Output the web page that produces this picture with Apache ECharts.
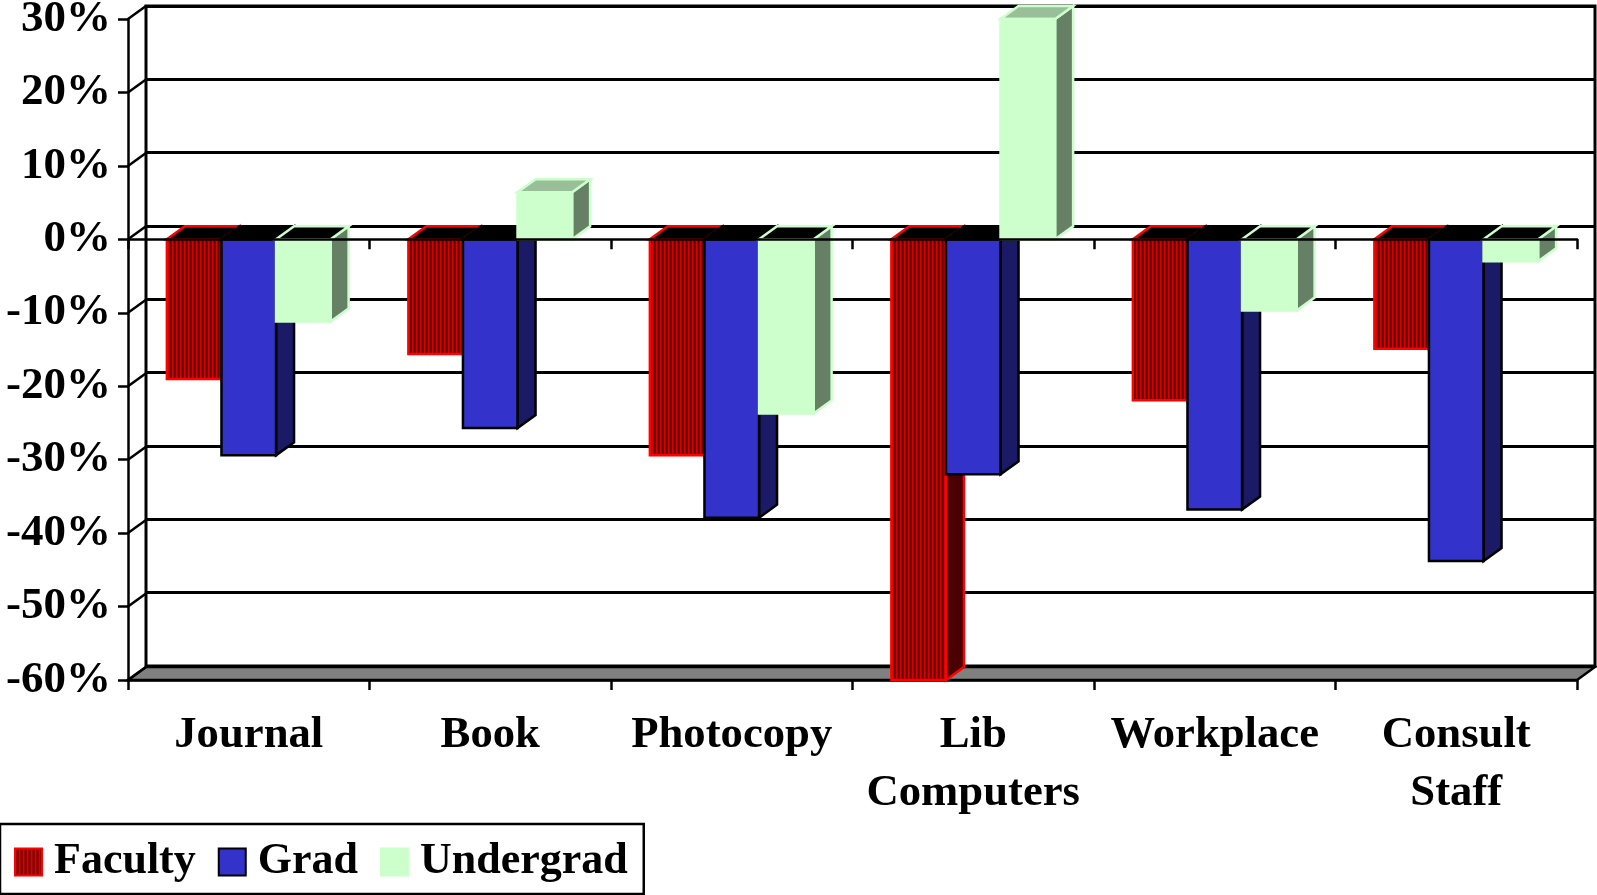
<!DOCTYPE html>
<html>
<head>
<meta charset="utf-8">
<style>
  html, body { margin: 0; padding: 0; background: #fff; }
  #chart { width: 1597px; height: 895px; }
</style>
<script src="https://cdn.jsdelivr.net/npm/echarts@6/dist/echarts.min.js"></script>
</head>
<body>
<div id="chart"></div>
<script>
const categories = ['Journal', 'Book', 'Photocopy', 'Lib\nComputers', 'Workplace', 'Consult\nStaff'];
const faculty = [-19, -15.6, -29.4, -60, -21.9, -14.9];
const grad = [-29.4, -25.7, -37.9, -32, -36.8, -43.8];
const undergrad = [-11.2, 6.4, -23.7, 30, -9.7, -3];
const yTicks = [30, 20, 10, 0, -10, -20, -30, -40, -50, -60];

const font = '"Liberation Serif", "Times New Roman", serif';
const depthX = 18;
const depthY = 13;
const barRatio = 0.226;

// vertical stripes on the Faculty bars
function stripes() {
  const c = document.createElement('canvas');
  c.width = 4;
  c.height = 2;
  const ctx = c.getContext('2d');
  ['#d80000', '#a80000', '#5c0000', '#8c0000'].forEach((col, i) => {
    ctx.fillStyle = col;
    ctx.fillRect(i, 0, 1, 2);
  });
  return { image: c, repeat: 'repeat' };
}
const stripeFill = stripes();

function poly(points, fill, stroke, width) {
  return {
    type: 'polygon',
    shape: { points: points },
    style: { fill: fill, stroke: stroke, lineWidth: width || 2.5, lineJoin: 'miter' },
  };
}

function barSeries(name, values, slot, look) {
  return {
    name: name,
    type: 'custom',
    xAxisIndex: 0,
    yAxisIndex: 0,
    z: 3,
    itemStyle: { color: look.front, borderColor: look.stroke, borderWidth: 2 },
    data: values.map((v, i) => [i, v]),
    encode: { x: 0, y: 1 },
    renderItem: (params, api) => {
      const w = api.size([1, 0])[0] * barRatio;
      const zero = api.coord([api.value(0), 0]);
      const end = api.coord([api.value(0), api.value(1)]);
      const x0 = zero[0] + (slot - 1.5) * w;
      const x1 = x0 + w;
      const yTop = Math.min(zero[1], end[1]);
      const yBot = Math.max(zero[1], end[1]);
      const topFill = api.value(1) > 0 ? look.topUp : '#000';
      return {
        type: 'group',
        children: [
          poly([[x1, yTop], [x1 + depthX, yTop - depthY], [x1 + depthX, yBot - depthY], [x1, yBot]], look.side, look.stroke),
          poly([[x0, yTop], [x0 + depthX, yTop - depthY], [x1 + depthX, yTop - depthY], [x1, yTop]], topFill, look.stroke),
          poly([[x0, yTop], [x1, yTop], [x1, yBot], [x0, yBot]], look.front, look.stroke),
        ],
      };
    },
  };
}

// grey floor and the slanted lines joining the two walls
const floorSeries = {
  type: 'custom',
  xAxisIndex: 0,
  yAxisIndex: 0,
  z: 1,
  silent: true,
  data: [[0, -60]],
  encode: { x: 0, y: 1 },
  renderItem: (params, api) => {
    const box = params.coordSys;
    const y = api.coord([0, -60])[1];
    const l = box.x;
    const r = box.x + box.width;
    return poly([[l, y], [r, y], [r + depthX, y - depthY], [l + depthX, y - depthY]], '#808080', '#000');
  },
};

const wallSeries = {
  type: 'custom',
  xAxisIndex: 0,
  yAxisIndex: 0,
  z: 2,
  silent: true,
  data: yTicks.map((t) => [0, t]),
  encode: { x: 0, y: 1 },
  renderItem: (params, api) => {
    const y = api.coord([0, api.value(1)])[1];
    const l = params.coordSys.x;
    return {
      type: 'line',
      shape: { x1: l, y1: y, x2: l + depthX, y2: y - depthY },
      style: { stroke: '#000', lineWidth: 2.5 },
    };
  },
};

const chart = echarts.init(document.getElementById('chart'));
chart.setOption({
  animation: false,
  backgroundColor: '#fff',
  legend: {
    left: 0,
    top: 824,
    data: [
      { name: 'Faculty', icon: 'rect' },
      { name: 'Grad', icon: 'rect' },
      { name: 'Undergrad', icon: 'rect' },
    ],
    orient: 'horizontal',
    itemWidth: 27,
    itemHeight: 27,
    itemGap: 22,
    padding: [16, 16, 10, 14],
    borderColor: '#000',
    borderWidth: 2.5,
    backgroundColor: '#fff',
    textStyle: {
      fontFamily: font,
      fontWeight: 'bold',
      fontSize: 44,
      color: '#000',
      padding: [2, 0, 0, 7],
    },
  },
  grid: [
    { left: 128, top: 19, width: 1449, height: 661, outerBoundsMode: 'none' },
    { left: 146, top: 6, width: 1449, height: 660, outerBoundsMode: 'none', show: true, borderColor: '#000', borderWidth: 3, backgroundColor: '#fff' },
  ],
  xAxis: [
    {
      gridIndex: 0,
      type: 'category',
      data: categories,
      position: 'bottom',
      axisLine: { onZero: false, lineStyle: { color: '#000', width: 2.5 } },
      axisTick: { show: true, length: 10, lineStyle: { color: '#000', width: 2.5 } },
      axisLabel: {
        interval: 0,
        margin: 26,
        color: '#000',
        fontFamily: font,
        fontWeight: 'bold',
        fontSize: 44.7,
        lineHeight: 58,
      },
      splitLine: { show: false },
    },
    {
      gridIndex: 0,
      type: 'category',
      data: categories,
      position: 'top',
      z: 5,
      axisLine: { onZero: true, lineStyle: { color: '#000', width: 2.5 } },
      axisTick: { show: true, inside: true, length: 10, lineStyle: { color: '#000', width: 2.5 } },
      axisLabel: { show: false },
      splitLine: { show: false },
    },
    {
      gridIndex: 1,
      type: 'category',
      data: categories,
      show: false,
    },
  ],
  yAxis: [
    {
      gridIndex: 0,
      type: 'value',
      min: -60,
      max: 30,
      interval: 10,
      axisLine: { show: true, onZero: false, lineStyle: { color: '#000', width: 2.5 } },
      axisTick: { show: true, length: 10, lineStyle: { color: '#000', width: 2.5 } },
      axisLabel: {
        margin: 17,
        color: '#000',
        fontFamily: font,
        fontWeight: 'bold',
        fontSize: 45,
        padding: [16, 0, 0, 0],
        formatter: '{value}%',
      },
      splitLine: { show: false },
    },
    {
      gridIndex: 1,
      type: 'value',
      min: -60,
      max: 30,
      interval: 10,
      axisLine: { show: false },
      axisTick: { show: false },
      axisLabel: { show: false },
      splitLine: { show: true, lineStyle: { color: '#000', width: 3 } },
    },
  ],
  series: [
    floorSeries,
    wallSeries,
    barSeries('Faculty', faculty, 0, { front: stripeFill, side: '#4a0000', stroke: '#ff0000', topUp: '#000' }),
    barSeries('Grad', grad, 1, { front: '#3333cc', side: '#1a1a66', stroke: '#000', topUp: '#000' }),
    barSeries('Undergrad', undergrad, 2, { front: '#ccffcc', side: '#668066', stroke: '#ccffcc', topUp: '#99bf99' }),
  ],
});
</script>
</body>
</html>
